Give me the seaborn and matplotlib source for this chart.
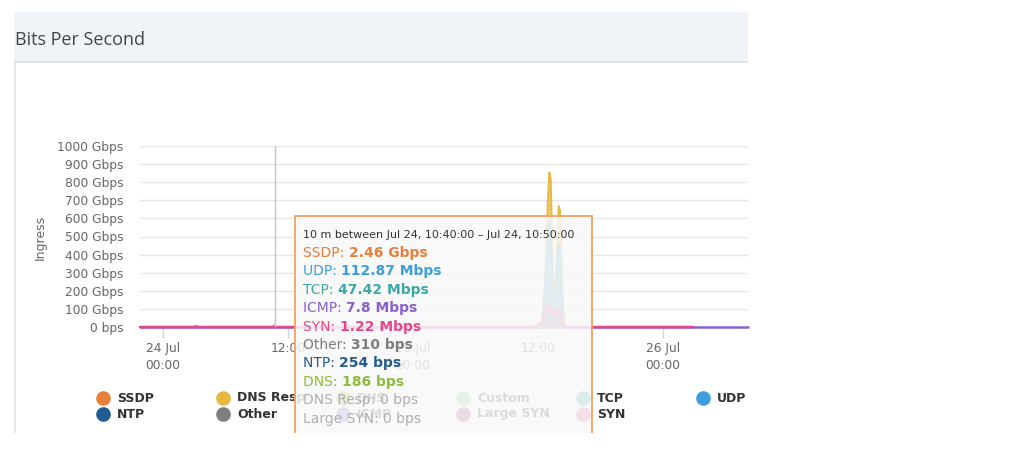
import numpy as np
import pandas as pd
import matplotlib
matplotlib.use("Agg")
import matplotlib.pyplot as plt
from matplotlib.patches import Rectangle
from matplotlib.lines import Line2D
import seaborn as sns

# time axis: hours from 24 Jul 00:00
hours    = [-2.2, 3.0, 3.17, 3.33, 10.5, 10.67, 10.83, 35.7, 35.9, 36.4, 36.7, 36.96, 37.08, 37.22, 37.45, 37.63, 37.85, 38.0, 38.12, 38.35, 38.6, 50.9, 56.2]
# values in Gbps
ssdp     = [0, 0, 8, 0, 0, 8, 0, 0, 0, 0, 0, 0, 0, 0, 0, 0, 0, 0, 0, 0, 0, 0, np.nan]
dns_resp = [0, 0, 0, 0, 0, 0, 0, 0, 0, 20, 300, 720, 855, 820, 300, 150, 520, 668, 640, 200, 0, 0, np.nan]
udp      = [0, 0, 0, 0, 0, 0, 0, 0, 5, 20, 250, 560, 580, 500, 200, 120, 400, 464, 430, 50, 0, 0, np.nan]
syn      = [0, 0, 0, 0, 0, 0, 0, 0, 10, 30, 100, 122, 118, 110, 80, 70, 90, 94, 85, 10, 0, 0, np.nan]
icmp     = [0, 0, 0, 0, 0, 0, 0, 0, 0, 0, 0, 0, 0, 0, 0, 0, 0, 0, 0, 0, 0, 0, 0]

hover_hour = 10.75
tick_hours = [0, 12, 24, 36, 48]
tick_labels = ["24 Jul\n00:00", "12:00", "25 Jul\n00:00", "12:00", "26 Jul\n00:00"]
y_ticks = [0, 100, 200, 300, 400, 500, 600, 700, 800, 900, 1000]
y_labels = ["0 bps", "100 Gbps", "200 Gbps", "300 Gbps", "400 Gbps", "500 Gbps",
            "600 Gbps", "700 Gbps", "800 Gbps", "900 Gbps", "1000 Gbps"]

colors = {
    "SSDP": "#e8803a", "DNS Resp": "#e8b83f", "DNS": "#8ebd3b", "Custom": "#86cf86",
    "TCP": "#3aa9a6", "UDP": "#3d9edb", "NTP": "#225b92", "Other": "#7e7e80",
    "ICMP": "#8a5fd1", "Large SYN": "#a0406a", "SYN": "#e4468b",
}
legend_rows = [["SSDP", "DNS Resp", "DNS", "Custom", "TCP", "UDP"],
               ["NTP", "Other", "ICMP", "Large SYN", "SYN"]]

tip_header = "10 m between Jul 24, 10:40:00 \u2013 Jul 24, 10:50:00"
tip_names = ["SSDP", "UDP", "TCP", "ICMP", "SYN", "Other", "NTP", "DNS", "DNS Resp", "Large SYN"]
tip_values = ["2.46 Gbps", "112.87 Mbps", "47.42 Mbps", "7.8 Mbps", "1.22 Mbps",
              "310 bps", "254 bps", "186 bps", "0 bps", "0 bps"]

df = pd.DataFrame({"hour": hours, "SSDP": ssdp, "DNS Resp": dns_resp,
                   "UDP": udp, "SYN": syn, "ICMP": icmp})

sns.set_theme(style="white")
plt.rcParams["font.family"] = ["DejaVu Sans"]

W, H = 1024, 453
fig = plt.figure(figsize=(W / 100, H / 100), dpi=100)
fig.patch.set_facecolor("white")


def fx(x):
    return x / W


def fy(y):
    return 1 - y / H


# header band and panel borders
fig.add_artist(Rectangle((fx(14), fy(62)), fx(748) - fx(14), fy(12) - fy(62),
                         transform=fig.transFigure, facecolor="#f0f4f9", edgecolor="none", zorder=0))
fig.add_artist(Line2D([fx(14), fx(748)], [fy(62), fy(62)], transform=fig.transFigure,
                      color="#dde1e6", lw=1.2, zorder=1))
fig.add_artist(Line2D([fx(15), fx(15)], [fy(62), fy(440)], transform=fig.transFigure,
                      color="#e3e3e3", lw=1.2, zorder=1))
fig.text(fx(15), fy(40), "Bits Per Second", family="Open Sans", fontsize=13,
         color="#444444", va="center", ha="left")

ax = fig.add_axes([fx(140), fy(327), fx(748) - fx(140), fy(146) - fy(327)])
ax.set_facecolor("none")

# series
sns.lineplot(data=df, x="hour", y="ICMP", ax=ax, color=colors["ICMP"], lw=1.8, clip_on=False)
for name in ["DNS Resp", "UDP", "SSDP"]:
    ax.fill_between(df["hour"], df[name], color=colors[name], alpha=0.75, lw=0)
    sns.lineplot(data=df, x="hour", y=name, ax=ax, color=colors[name], lw=1.3, clip_on=False)
ax.fill_between(df["hour"], df["SYN"], color=colors["SYN"], alpha=0.35, lw=0)
sns.lineplot(data=df, x="hour", y="SYN", ax=ax, color=colors["SYN"], lw=1.8, clip_on=False)

ax.axvline(hover_hour, color="#c4c4c4", lw=1)

ax.set_xlim(-2.21, 56.16)
ax.set_ylim(0, 1000)
ax.set_xticks(tick_hours)
ax.set_xticklabels(tick_labels)
ax.set_yticks(y_ticks)
ax.set_yticklabels(y_labels)
ax.set_xlabel("")
ax.set_ylabel("")
ax.grid(axis="y", color="#e6e6e6", lw=1)
ax.grid(axis="x", visible=False)
for s in ax.spines.values():
    s.set_visible(False)
ax.tick_params(axis="x", bottom=True, length=8, width=1, color="#ccd6eb", pad=3,
               labelsize=8.8, labelcolor="#666666")
ax.tick_params(axis="y", left=False, length=0, pad=12, labelsize=8.8, labelcolor="#666666")
for lbl in ax.get_xticklabels():
    lbl.set_linespacing(1.4)
    lbl.set_va("top")

fig.text(fx(40), fy(237), "Ingress", rotation=90, fontsize=9, color="#666666",
         ha="center", va="center")

# legend
col_x = [103, 223, 343, 463, 583, 703]
row_y = [398, 414]
for r, row in enumerate(legend_rows):
    for c, name in enumerate(row):
        fig.add_artist(Line2D([fx(col_x[c])], [fy(row_y[r])], transform=fig.transFigure,
                              marker="o", ms=9.5, color=colors[name], lw=0, zorder=2))
        fig.text(fx(col_x[c] + 14), fy(row_y[r]), name, fontsize=9, fontweight="bold",
                 color="#333333", ha="left", va="center", zorder=2)

# tooltip
fig.add_artist(Rectangle((fx(295), fy(436)), fx(592) - fx(295), fy(216) - fy(436),
                         transform=fig.transFigure, facecolor="#f8f8f8", alpha=0.86,
                         edgecolor="none", zorder=10))
fig.add_artist(Rectangle((fx(295), fy(436)), fx(592) - fx(295), fy(216) - fy(436),
                         transform=fig.transFigure, facecolor="none",
                         edgecolor="#f2a060", lw=1.3, zorder=11))
fig.text(fx(303), fy(235), tip_header, fontsize=8, color="#333333",
         ha="left", va="center", zorder=12)

fig.canvas.draw()
renderer = fig.canvas.get_renderer()
for i, (name, val) in enumerate(zip(tip_names, tip_values)):
    y = 253 + i * 18.4
    faded = i >= 8
    col = "#b0b0b0" if faded else colors[name]
    t = fig.text(fx(303), fy(y), name + ": ", fontsize=10, color=col,
                 ha="left", va="center", zorder=12)
    w = t.get_window_extent(renderer).width
    fig.text(fx(303 + w), fy(y), val, fontsize=10,
             fontweight="normal" if faded else "bold", color=col,
             ha="left", va="center", zorder=12)

# screenshot crop at the bottom
fig.add_artist(Rectangle((0, 0), 1, fy(433), transform=fig.transFigure,
                         facecolor="white", edgecolor="none", zorder=20))

fig.savefig("out.png", dpi=100, facecolor="white")
